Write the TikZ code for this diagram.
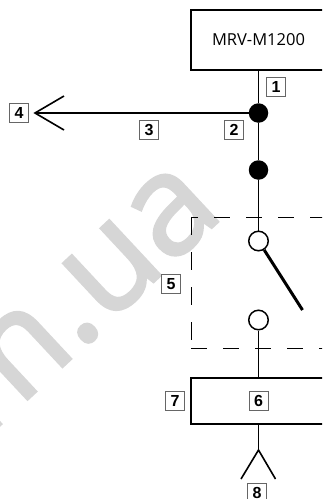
\documentclass[tikz,border=0pt]{standalone}
\usepackage{fontspec}
\setmainfont{Open Sans}
\newfontfamily\tagfont{Liberation Sans}
\newfontfamily\markfont[FakeBold=2]{Open Sans}
\usetikzlibrary{positioning}
\definecolor{markgray}{gray}{0.84}
\tikzset{
  unitbox/.style={draw,line width=2.2pt,inner sep=0pt},
  tagbox/.style={draw=black!60,line width=0.7pt,fill=white,inner sep=0pt,minimum size=19pt,font=\tagfont\bfseries\fontsize{16}{16}\selectfont},
  solidjoint/.style={circle,fill=black,inner sep=0pt,minimum size=19.5pt},
  openjoint/.style={circle,draw,line width=1.5pt,fill=white,inner sep=0pt,minimum size=19.5pt},
  wire/.style={line width=1.6pt},
  dashline/.style={line width=1pt,dash pattern=on 16pt off 16pt}
}
\begin{document}
\begin{tikzpicture}[x=1pt,y=-1pt]
  \useasboundingbox (0,0) rectangle (322,499);
  \clip (0,0) rectangle (322,499);
  \node[rotate=43,anchor=base,text=markgray,font=\markfont\fontsize{140}{140}\selectfont] (mark) at (105,327) {m.ua};
  \node[unitbox,minimum width=135pt,minimum height=60pt,font=\fontsize{16.5}{16.5}\selectfont] (mrv) at (258.5,40) {MRV-M1200};
  \node[solidjoint] (joint1) at (258.5,113) {};
  \node[solidjoint] (joint2) at (258.5,170) {};
  \node[openjoint] (open1) at (258.5,241) {};
  \node[openjoint] (open2) at (258.5,320) {};
  \node[unitbox,minimum width=135pt,minimum height=46pt] (load) at (258.5,401) {};
  \coordinate (tip4) at (35,113);
  \coordinate (arm4a) at (64,96);
  \coordinate (arm4b) at (64,130);
  \coordinate (fork) at (258.5,450);
  \coordinate (fork8a) at (241,479);
  \coordinate (fork8b) at (275.5,479);
  \coordinate (blade) at (302.5,310);
  \coordinate (topleft) at (191,217);
  \coordinate (topright) at (330,217);
  \coordinate (lowleft) at (191,348);
  \coordinate (lowright) at (330,348);
  \draw[wire] (mrv) -- (joint1);
  \draw[wire] (joint1) -- (joint2);
  \draw[wire] (joint2) -- (open1);
  \draw[wire] (joint1) -- (tip4);
  \draw[wire] (arm4a) -- (tip4) -- (arm4b);
  \draw[line width=3pt] (open1) -- (blade);
  \draw[wire] (open2) -- (load);
  \draw[wire] (load) -- (fork);
  \draw[wire] (fork8a) -- (fork) -- (fork8b);
  \draw[dashline,dash phase=9pt] (topleft) -- (topright);
  \draw[line width=1pt,dash pattern=on 18pt off 17pt] (topleft) -- (lowleft);
  \draw[dashline] (lowleft) -- (lowright);
  \node[tagbox] (tag1) at (276,86.5) {1};
  \node[tagbox] (tag2) at (234,129.5) {2};
  \node[tagbox] (tag3) at (149,129.5) {3};
  \node[tagbox] (tag4) at (19,112.5) {4};
  \node[tagbox] (tag5) at (171,284) {5};
  \node[tagbox] (tag6) at (258.5,401) {6};
  \node[tagbox] (tag7) at (175,401) {7};
  \node[tagbox] (tag8) at (257,493) {8};
\end{tikzpicture}
\end{document}
